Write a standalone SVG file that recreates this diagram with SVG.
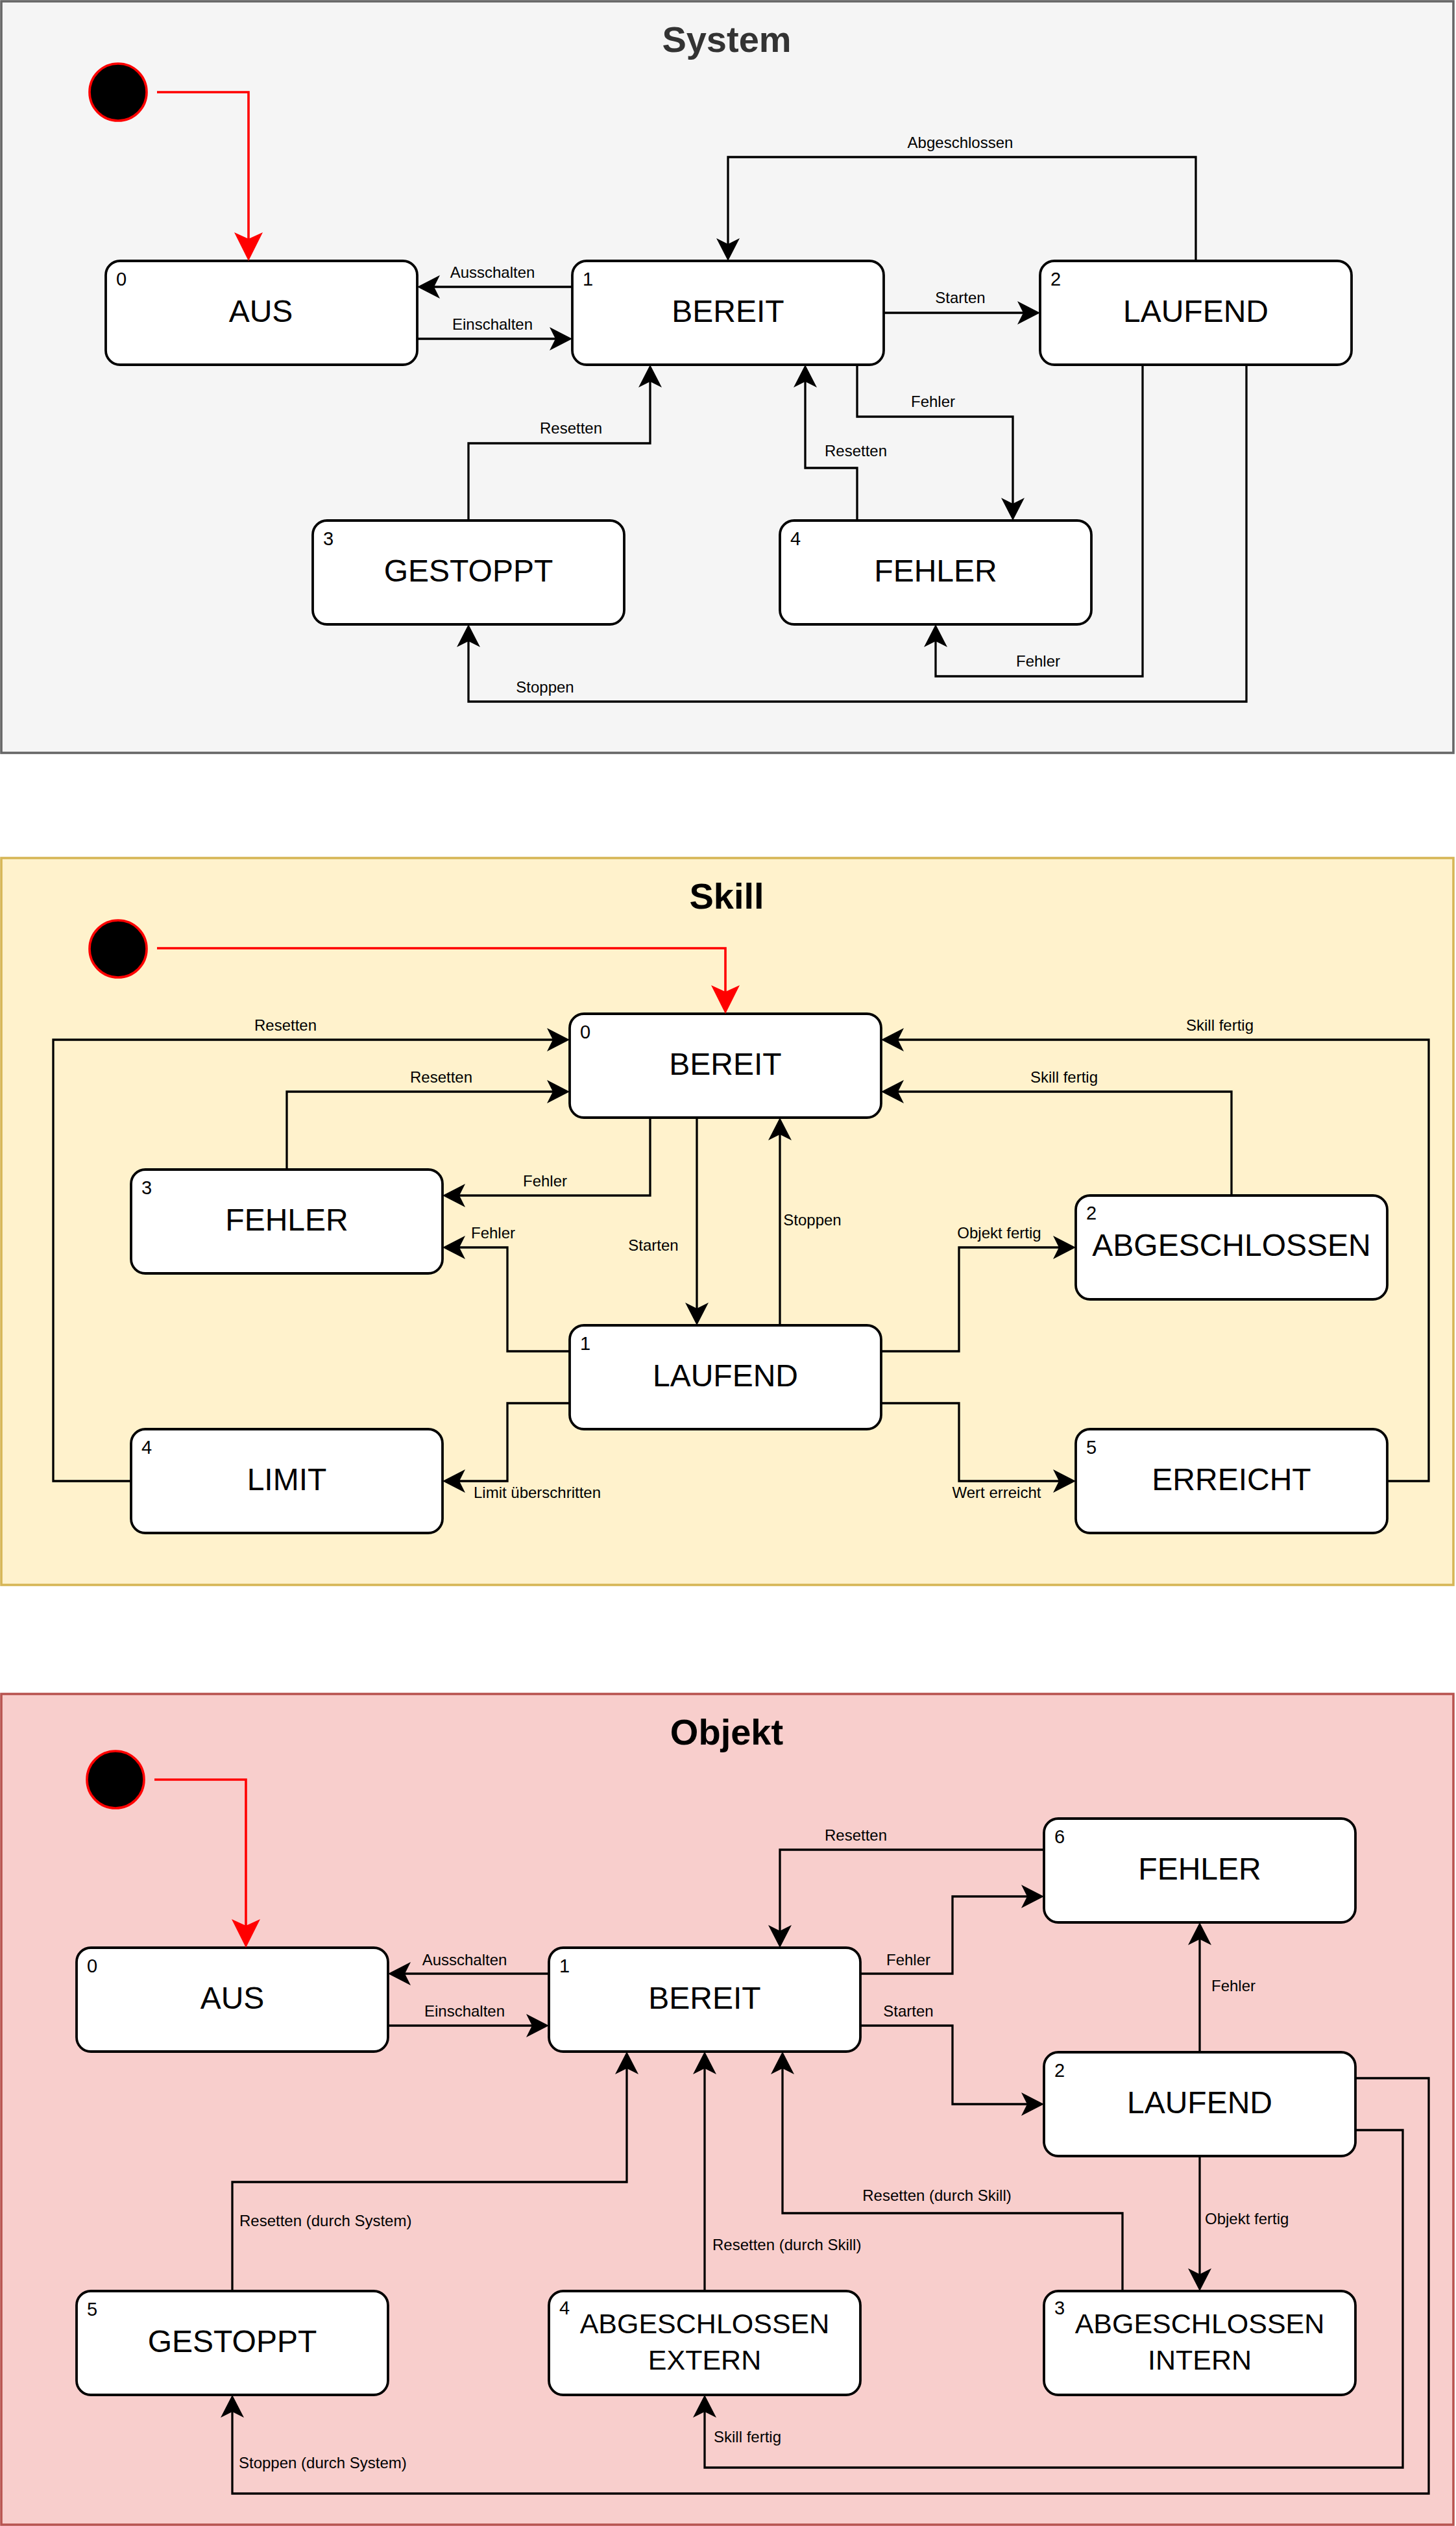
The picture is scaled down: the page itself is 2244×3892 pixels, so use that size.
<svg xmlns="http://www.w3.org/2000/svg" width="2244" height="3892" viewBox="0 0 2244 3892">
<style>
.panel{stroke-width:3.6}
.node rect{fill:#fff;stroke:#000;stroke-width:3.8}
.nt{font-family:"Liberation Sans",Arial,sans-serif;font-size:48px;fill:#000;text-anchor:middle}
.nt2{font-family:"Liberation Sans",Arial,sans-serif;font-size:43px;fill:#000;text-anchor:middle}
.num{font-family:"Liberation Sans",Arial,sans-serif;font-size:29px;fill:#000}
.lbl{font-family:"Liberation Sans",Arial,sans-serif;font-size:24px;fill:#000;text-anchor:middle}
.lbll{font-family:"Liberation Sans",Arial,sans-serif;font-size:24px;fill:#000}
.title{font-family:"Liberation Sans",Arial,sans-serif;font-size:56px;font-weight:bold;text-anchor:middle}
.edge{fill:none;stroke:#000;stroke-width:3.3;marker-end:url(#arr)}
.init{fill:none;stroke:#ff0000;stroke-width:3.6;marker-end:url(#arrRed)}
.start{fill:#000;stroke:#ff0000;stroke-width:3.6}
</style>
<defs>
<marker id="arr" markerUnits="userSpaceOnUse" markerWidth="60" markerHeight="60" refX="0" refY="0" orient="auto" overflow="visible">
<path d="M26,0 L-9,-18 L0,0 L-9,18 Z" fill="#000"/>
</marker>
<marker id="arrRed" markerUnits="userSpaceOnUse" markerWidth="60" markerHeight="60" refX="0" refY="0" orient="auto" overflow="visible">
<path d="M34,0 L-10,-22 L0,0 L-10,22 Z" fill="#ff0000"/>
</marker>
</defs>

<!-- ===================== SYSTEM ===================== -->
<g id="panel-system">
<rect class="panel" x="2" y="2" width="2238" height="1158" fill="#f5f5f5" stroke="#666666"/>
<text class="title" x="1120" y="80" fill="#333333">System</text>
</g>
<g id="sys-start"><circle class="start" cx="182" cy="142" r="44"/></g>
<g id="sys-aus" class="node"><rect x="163" y="402" width="480" height="160" rx="22"/><text class="num" x="179" y="440">0</text><text class="nt" x="402" y="496">AUS</text></g>
<g id="sys-bereit" class="node"><rect x="882" y="402" width="480" height="160" rx="22"/><text class="num" x="898" y="440">1</text><text class="nt" x="1122" y="496">BEREIT</text></g>
<g id="sys-laufend" class="node"><rect x="1603" y="402" width="480" height="160" rx="22"/><text class="num" x="1619" y="440">2</text><text class="nt" x="1843" y="496">LAUFEND</text></g>
<g id="sys-gestoppt" class="node"><rect x="482" y="802" width="480" height="160" rx="22"/><text class="num" x="498" y="840">3</text><text class="nt" x="722" y="896">GESTOPPT</text></g>
<g id="sys-fehler" class="node"><rect x="1202" y="802" width="480" height="160" rx="22"/><text class="num" x="1218" y="840">4</text><text class="nt" x="1442" y="896">FEHLER</text></g>
<g id="sys-edges">
<path class="init" d="M242,142 H383 V368"/>
<path class="edge" d="M882,442 H669"/>
<path class="edge" d="M643,522 H856"/>
<path class="edge" d="M1362,482 H1577"/>
<path class="edge" d="M1843,402 V242 H1122 V376"/>
<path class="edge" d="M722,802 V683 H1002 V588"/>
<path class="edge" d="M1321,802 V721 H1241 V588"/>
<path class="edge" d="M1321,562 V642 H1561 V776"/>
<path class="edge" d="M1761,562 V1042 H1442 V988"/>
<path class="edge" d="M1921,562 V1081 H722 V988"/>
<text class="lbl" x="759" y="428">Ausschalten</text>
<text class="lbl" x="759" y="508">Einschalten</text>
<text class="lbl" x="1480" y="467">Starten</text>
<text class="lbl" x="1480" y="228">Abgeschlossen</text>
<text class="lbl" x="880" y="668">Resetten</text>
<text class="lbl" x="1319" y="703">Resetten</text>
<text class="lbl" x="1438" y="627">Fehler</text>
<text class="lbl" x="1600" y="1027">Fehler</text>
<text class="lbl" x="840" y="1067">Stoppen</text>
</g>

<!-- ===================== SKILL ===================== -->
<g id="panel-skill">
<rect class="panel" x="2" y="1322" width="2238" height="1120" fill="#fff2cc" stroke="#d6b656"/>
<text class="title" x="1120" y="1400" fill="#000">Skill</text>
</g>
<g id="skill-start"><circle class="start" cx="182" cy="1462" r="44"/></g>
<g id="skill-bereit" class="node"><rect x="878" y="1562" width="480" height="160" rx="22"/><text class="num" x="894" y="1600">0</text><text class="nt" x="1118" y="1656">BEREIT</text></g>
<g id="skill-laufend" class="node"><rect x="878" y="2042" width="480" height="160" rx="22"/><text class="num" x="894" y="2080">1</text><text class="nt" x="1118" y="2136">LAUFEND</text></g>
<g id="skill-abgeschlossen" class="node"><rect x="1658" y="1842" width="480" height="160" rx="22"/><text class="num" x="1674" y="1879">2</text><text class="nt" x="1898" y="1935">ABGESCHLOSSEN</text></g>
<g id="skill-fehler" class="node"><rect x="202" y="1802" width="480" height="160" rx="22"/><text class="num" x="218" y="1840">3</text><text class="nt" x="442" y="1896">FEHLER</text></g>
<g id="skill-limit" class="node"><rect x="202" y="2202" width="480" height="160" rx="22"/><text class="num" x="218" y="2240">4</text><text class="nt" x="442" y="2296">LIMIT</text></g>
<g id="skill-erreicht" class="node"><rect x="1658" y="2202" width="480" height="160" rx="22"/><text class="num" x="1674" y="2240">5</text><text class="nt" x="1898" y="2296">ERREICHT</text></g>
<g id="skill-edges">
<path class="init" d="M242,1461 H1118 V1528"/>
<path class="edge" d="M202,2282 H82 V1602 H852"/>
<path class="edge" d="M442,1802 V1682 H852"/>
<path class="edge" d="M1002,1722 V1842 H708"/>
<path class="edge" d="M878,2082 H782 V1922 H708"/>
<path class="edge" d="M1074,1722 V2016"/>
<path class="edge" d="M1202,2042 V1748"/>
<path class="edge" d="M878,2162 H782 V2282 H708"/>
<path class="edge" d="M2138,2282 H2202 V1602 H1384"/>
<path class="edge" d="M1898,1842 V1682 H1384"/>
<path class="edge" d="M1358,2082 H1478 V1922 H1632"/>
<path class="edge" d="M1358,2162 H1478 V2282 H1632"/>
<text class="lbl" x="440" y="1588">Resetten</text>
<text class="lbl" x="680" y="1668">Resetten</text>
<text class="lbl" x="840" y="1828">Fehler</text>
<text class="lbl" x="760" y="1908">Fehler</text>
<text class="lbl" x="1007" y="1927">Starten</text>
<text class="lbl" x="1252" y="1888">Stoppen</text>
<text class="lbl" x="828" y="2308">Limit überschritten</text>
<text class="lbl" x="1880" y="1588">Skill fertig</text>
<text class="lbl" x="1640" y="1668">Skill fertig</text>
<text class="lbl" x="1540" y="1908">Objekt fertig</text>
<text class="lbl" x="1536" y="2308">Wert erreicht</text>
</g>

<!-- ===================== OBJEKT ===================== -->
<g id="panel-objekt">
<rect class="panel" x="2" y="2610" width="2238" height="1280" fill="#f8cecc" stroke="#b85450"/>
<text class="title" x="1120" y="2688" fill="#000">Objekt</text>
</g>
<g id="obj-start"><circle class="start" cx="178" cy="2742" r="44"/></g>
<g id="obj-aus" class="node"><rect x="118" y="3001" width="480" height="160" rx="22"/><text class="num" x="134" y="3039">0</text><text class="nt" x="358" y="3095">AUS</text></g>
<g id="obj-bereit" class="node"><rect x="846" y="3001" width="480" height="160" rx="22"/><text class="num" x="862" y="3039">1</text><text class="nt" x="1086" y="3095">BEREIT</text></g>
<g id="obj-laufend" class="node"><rect x="1609" y="3162" width="480" height="160" rx="22"/><text class="num" x="1625" y="3200">2</text><text class="nt" x="1849" y="3256">LAUFEND</text></g>
<g id="obj-abg-intern" class="node"><rect x="1609" y="3530" width="480" height="160" rx="22"/><text class="num" x="1625" y="3566">3</text><text class="nt2" x="1849" y="3595">ABGESCHLOSSEN</text><text class="nt2" x="1849" y="3651">INTERN</text></g>
<g id="obj-abg-extern" class="node"><rect x="846" y="3530" width="480" height="160" rx="22"/><text class="num" x="862" y="3566">4</text><text class="nt2" x="1086" y="3595">ABGESCHLOSSEN</text><text class="nt2" x="1086" y="3651">EXTERN</text></g>
<g id="obj-gestoppt" class="node"><rect x="118" y="3530" width="480" height="160" rx="22"/><text class="num" x="134" y="3568">5</text><text class="nt" x="358" y="3624">GESTOPPT</text></g>
<g id="obj-fehler" class="node"><rect x="1609" y="2802" width="480" height="160" rx="22"/><text class="num" x="1625" y="2840">6</text><text class="nt" x="1849" y="2896">FEHLER</text></g>
<g id="obj-edges">
<path class="init" d="M238,2742 H379 V2967"/>
<path class="edge" d="M846,3041 H624"/>
<path class="edge" d="M598,3121 H820"/>
<path class="edge" d="M1609,2850 H1202 V2975"/>
<path class="edge" d="M1326,3041 H1468 V2922 H1583"/>
<path class="edge" d="M1326,3121 H1468 V3242 H1583"/>
<path class="edge" d="M1849,3162 V2988"/>
<path class="edge" d="M1849,3322 V3504"/>
<path class="edge" d="M1730,3530 V3410 H1206 V3187"/>
<path class="edge" d="M358,3530 V3362 H966 V3187"/>
<path class="edge" d="M1086,3530 V3187"/>
<path class="edge" d="M2089,3202 H2202 V3842 H358 V3716"/>
<path class="edge" d="M2089,3282 H2162 V3802 H1086 V3716"/>
<text class="lbl" x="716" y="3028">Ausschalten</text>
<text class="lbl" x="716" y="3107">Einschalten</text>
<text class="lbl" x="1319" y="2836">Resetten</text>
<text class="lbl" x="1400" y="3028">Fehler</text>
<text class="lbl" x="1400" y="3107">Starten</text>
<text class="lbll" x="1867" y="3068">Fehler</text>
<text class="lbll" x="1857" y="3427">Objekt fertig</text>
<text class="lbl" x="1444" y="3391">Resetten (durch Skill)</text>
<text class="lbll" x="369" y="3430">Resetten (durch System)</text>
<text class="lbll" x="1098" y="3467">Resetten (durch Skill)</text>
<text class="lbll" x="368" y="3803">Stoppen (durch System)</text>
<text class="lbll" x="1100" y="3763">Skill fertig</text>
</g>
</svg>
